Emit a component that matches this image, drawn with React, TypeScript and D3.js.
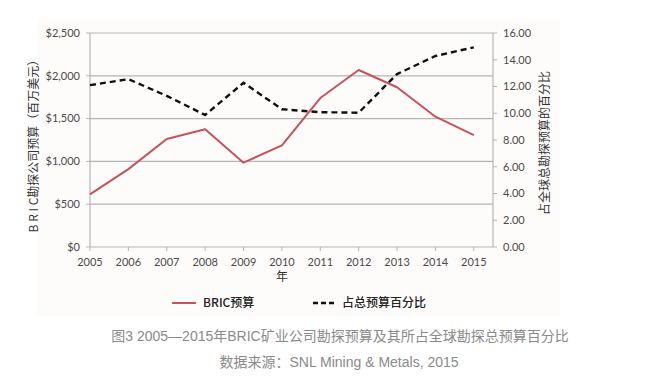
import React from "react";
import * as d3 from "d3";

const years = [2005, 2006, 2007, 2008, 2009, 2010, 2011, 2012, 2013, 2014, 2015];
const bricBudget = [615, 910, 1262, 1375, 985, 1188, 1740, 2068, 1866, 1522, 1308];
const sharePct = [12.1, 12.55, 11.3, 9.87, 12.28, 10.3, 10.08, 10.04, 12.93, 14.28, 14.93];
const leftTicks = [0, 500, 1000, 1500, 2000, 2500];
const rightTicks = [0, 2, 4, 6, 8, 10, 12, 14, 16];

const W = 647;
const H = 388;
const M = { left: 90, right: 493, top: 33, bottom: 247 };
const FONT = "Lato, 'Open Sans', 'Noto Sans', sans-serif";
const CJK = "'Noto Sans CJK SC', sans-serif";
const CAP = "'Liberation Sans', 'Noto Sans CJK SC', sans-serif";

export default function App() {
  const x = d3.scaleLinear().domain([2005, 2015.5]).range([M.left, M.right]);
  const yL = d3.scaleLinear().domain([0, 2500]).range([M.bottom, M.top]);
  const yR = d3.scaleLinear().domain([0, 16]).range([M.bottom, M.top]);

  const lineL = d3.line<number>().x((_, i) => x(years[i])).y((d) => yL(d));
  const lineR = d3.line<number>().x((_, i) => x(years[i])).y((d) => yR(d));

  const fmtL = (v: number) => "$" + d3.format(",")(v);
  const fmtR = d3.format(".2f");
  const axisColor = "#b5b5b5";
  const tickText = "#4a4a4a";

  return (
    <svg
      width={W}
      height={H}
      style={{ position: "absolute", left: 0, top: 0, background: "#ffffff" }}
    >
      <rect x={38} y={18} width={522} height={298} fill="#fefbfb" />
      {/* gridlines */}
      {leftTicks.map((t) => (
        <line key={"g" + t} x1={M.left} x2={M.right} y1={yL(t)} y2={yL(t)} stroke={axisColor} strokeWidth={1.2} />
      ))}
      {/* axes */}
      <line x1={M.left} x2={M.left} y1={M.top} y2={M.bottom} stroke={axisColor} strokeWidth={1.2} />
      <line x1={M.right} x2={M.right} y1={M.top} y2={M.bottom} stroke={axisColor} strokeWidth={1.2} />
      {leftTicks.map((t) => (
        <g key={"l" + t}>
          <line x1={M.left - 4} x2={M.left} y1={yL(t)} y2={yL(t)} stroke={axisColor} />
          <text x={80} y={yL(t)} dy="0.35em" textAnchor="end" fontFamily={FONT} fontSize={11} fill={tickText}>
            {fmtL(t)}
          </text>
        </g>
      ))}
      {rightTicks.map((t) => (
        <g key={"r" + t}>
          <line x1={M.right} x2={M.right + 4} y1={yR(t)} y2={yR(t)} stroke={axisColor} />
          <text x={503} y={yR(t)} dy="0.35em" textAnchor="start" fontFamily={FONT} fontSize={11} fill={tickText}>
            {fmtR(t)}
          </text>
        </g>
      ))}
      {years.map((yv) => (
        <g key={"x" + yv}>
          <line x1={x(yv)} x2={x(yv)} y1={M.bottom} y2={M.bottom + 4} stroke={axisColor} />
          <text x={x(yv)} y={262} dy="0.35em" textAnchor="middle" fontFamily={FONT} fontSize={11} fill={tickText}>
            {yv}
          </text>
        </g>
      ))}
      {/* series */}
      <path d={lineR(sharePct) || ""} fill="none" stroke="#111" strokeWidth={2.4} strokeDasharray="6,4" />
      <path d={lineL(bricBudget) || ""} fill="none" stroke="#c4545a" strokeWidth={2} strokeLinejoin="round" />
      {/* axis titles */}
      <text
        transform="translate(34,143) rotate(-90)"
        textAnchor="middle"
        dy="0.35em"
        fontFamily={CJK}
        fontSize={12}
        fill="#333"
      >
        B R I C勘探公司预算（百万美元）
      </text>
      <text
        transform="translate(545,143) rotate(-90)"
        textAnchor="middle"
        dy="0.35em"
        fontFamily={CJK}
        fontSize={12}
        fill="#333"
      >
        占全球总勘探预算的百分比
      </text>
      <text x={282} y={277} dy="0.35em" textAnchor="middle" fontFamily={CJK} fontSize={12} fill="#333">
        年
      </text>
      {/* legend */}
      <line x1={172} x2={196} y1={303} y2={303} stroke="#c4545a" strokeWidth={2} />
      <text x={203} y={303} dy="0.35em" fontFamily={CJK} fontSize={12} fontWeight={500} fill="#222">
        BRIC预算
      </text>
      <line x1={313} x2={336} y1={303} y2={303} stroke="#111" strokeWidth={2.4} strokeDasharray="5,3" />
      <text x={342} y={303} dy="0.35em" fontFamily={CJK} fontSize={12} fontWeight={500} fill="#222">
        占总预算百分比
      </text>
      {/* caption */}
      <text x={340} y={336} dy="0.35em" textAnchor="middle" fontFamily={CAP} fontSize={14} fill="#8a8a8a">
        图3 2005—2015年BRIC矿业公司勘探预算及其所占全球勘探总预算百分比
      </text>
      <text x={339} y={362} dy="0.35em" textAnchor="middle" fontFamily={CAP} fontSize={14} fill="#8a8a8a">
        数据来源：SNL Mining &amp; Metals, 2015
      </text>
    </svg>
  );
}
